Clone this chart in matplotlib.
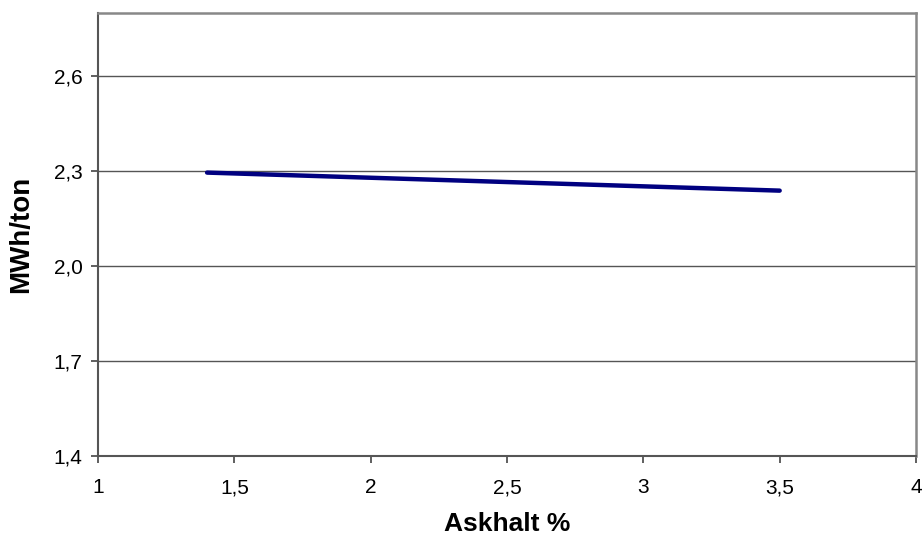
import numpy as np
import matplotlib
matplotlib.use('Agg')
import matplotlib.pyplot as plt
from matplotlib.ticker import FuncFormatter

plt.rcParams['font.family'] = ['Liberation Sans', 'DejaVu Sans']

# data
askhalt = [1.4, 3.5]
mwh_per_ton = [2.295, 2.238]

x_ticks = [1, 1.5, 2, 2.5, 3, 3.5, 4]
y_ticks = [1.4, 1.7, 2.0, 2.3, 2.6]

# swedish decimal comma
x_fmt = FuncFormatter(lambda v, pos: ('%g' % v).replace('.', ','))
y_fmt = FuncFormatter(lambda v, pos: ('%.1f' % v).replace('.', ','))

fig = plt.figure(figsize=(9.22, 5.42), dpi=100)
ax = fig.add_axes([0.1063, 0.1587, 0.8872, 0.8179])

ax.plot(askhalt, mwh_per_ton, color='#000080', lw=3.2, solid_capstyle='round', zorder=3)

ax.set_xlim(1, 4)
ax.set_ylim(1.4, 2.8)
ax.set_xticks(x_ticks)
ax.set_yticks(y_ticks)
ax.xaxis.set_major_formatter(x_fmt)
ax.yaxis.set_major_formatter(y_fmt)
ax.yaxis.grid(True, color='#555555', lw=1.0)
ax.set_axisbelow(True)

ax.tick_params(direction='out', length=5, width=1.2, color='#444444', labelsize=15, pad=6)
ax.tick_params(axis='x', pad=11)

for side in ['left', 'bottom']:
    ax.spines[side].set_color('#555555')
    ax.spines[side].set_linewidth(1.5)
for side in ['top', 'right']:
    ax.spines[side].set_color('#888888')
    ax.spines[side].set_linewidth(1.8)

ax.set_xlabel('Askhalt %', fontsize=19, fontweight='bold', labelpad=11)
ax.set_ylabel('MWh/ton', fontsize=20, fontweight='bold', labelpad=14)

fig.savefig('out.png', dpi=100)
